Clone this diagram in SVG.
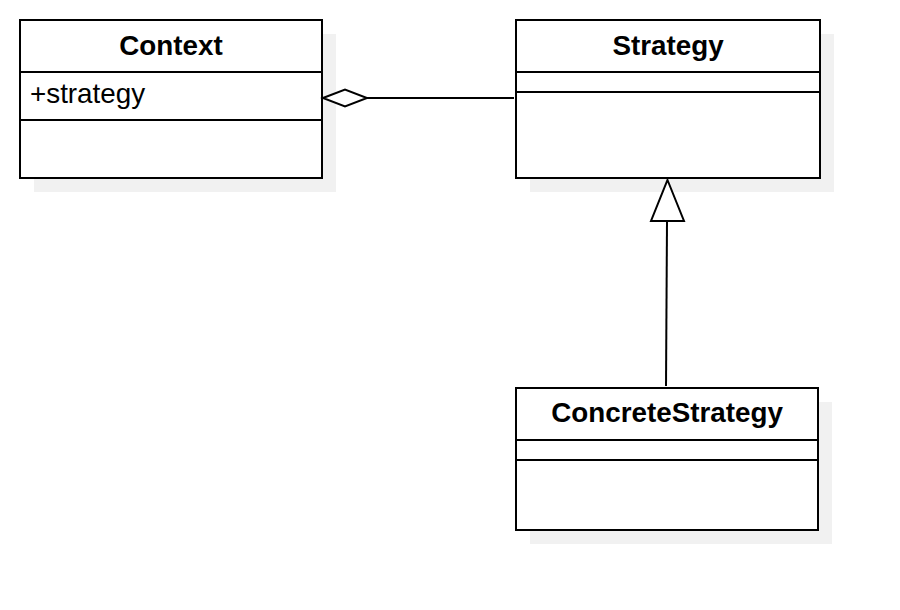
<svg xmlns="http://www.w3.org/2000/svg" width="900" height="610" viewBox="0 0 900 610">
<style>
.shadow{fill:#f1f1f1;stroke:none}
.box{fill:#ffffff;stroke:#000;stroke-width:2}
.sep{stroke:#000;stroke-width:2}
.title{font-family:"Liberation Sans",Arial,sans-serif;font-weight:bold;font-size:27.8px;fill:#000;text-anchor:middle}
.attr{font-family:"Liberation Sans",Arial,sans-serif;font-size:27.8px;fill:#000}
.conn{fill:none;stroke:#000;stroke-width:2}
</style>
<rect width="900" height="610" fill="#ffffff"/>
<g id="Context">
<rect class="shadow" x="34" y="34" width="302" height="158"/>
<rect class="box" x="20" y="20" width="302" height="158"/>
<line class="sep" x1="20" y1="72" x2="322" y2="72"/>
<line class="sep" x1="20" y1="120" x2="322" y2="120"/>
<text class="title" x="171" y="55">Context</text>
<text class="attr" x="30" y="103">+strategy</text>
</g>
<g id="Strategy">
<rect class="shadow" x="530" y="34" width="304" height="158"/>
<rect class="box" x="516" y="20" width="304" height="158"/>
<line class="sep" x1="516" y1="72" x2="820" y2="72"/>
<line class="sep" x1="516" y1="92" x2="820" y2="92"/>
<text class="title" x="668" y="55">Strategy</text>
</g>
<g id="ConcreteStrategy">
<rect class="shadow" x="530" y="402" width="302" height="142"/>
<rect class="box" x="516" y="388" width="302" height="142"/>
<line class="sep" x1="516" y1="440" x2="818" y2="440"/>
<line class="sep" x1="516" y1="460" x2="818" y2="460"/>
<text class="title" x="667" y="422">ConcreteStrategy</text>
</g>
<g id="connectors">
<path class="conn" d="M367 98 L514 98"/>
<path class="conn" d="M323 98 L345 89.5 L367 98 L345 106.5 Z" style="fill:#fff"/>
<path class="conn" d="M667 221 L666 386"/>
<path class="conn" d="M667.5 180 L684 221 L651 221 Z" style="fill:#fff"/>
</g>
</svg>
